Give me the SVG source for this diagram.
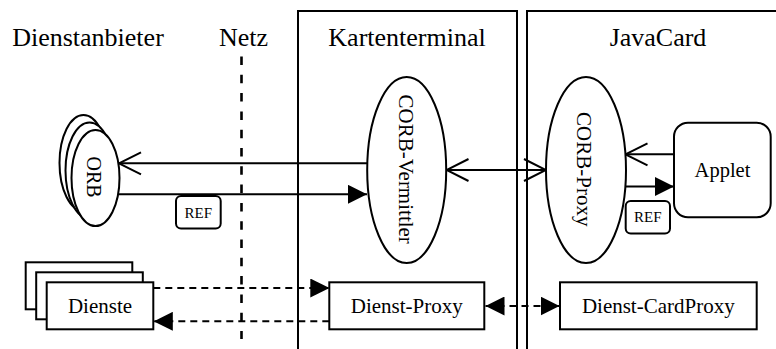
<svg xmlns="http://www.w3.org/2000/svg" width="776" height="349" viewBox="0 0 776 349">
  <style>
    text { font-family: "Liberation Serif", "Times New Roman", serif; fill: #000; }
    .title { font-size: 26px; text-anchor: middle; }
    .lbl { font-size: 21px; text-anchor: middle; }
    .ref { font-size: 15px; text-anchor: middle; }
    .shape { fill: #fff; stroke: #000; stroke-width: 2; }
    .frame { fill: none; stroke: #000; stroke-width: 2; }
    .line { fill: none; stroke: #000; stroke-width: 2; }
    .dash { stroke-dasharray: 7 5; }
  </style>
  <defs>
    <marker id="filled" viewBox="0 0 19 19" markerWidth="19" markerHeight="19" refX="19" refY="9.5" orient="auto-start-reverse" markerUnits="userSpaceOnUse">
      <path d="M0,0 L19,9.5 L0,19 z" fill="#000" stroke="none"/>
    </marker>
    <marker id="open" viewBox="-2 -2 26 26" markerWidth="26" markerHeight="26" refX="22" refY="11" orient="auto-start-reverse" markerUnits="userSpaceOnUse">
      <path d="M0,0 L22,11 L0,22" fill="none" stroke="#000" stroke-width="2" stroke-dasharray="none"/>
    </marker>
  </defs>

  <rect width="776" height="349" fill="#fff"/>

  <!-- domain frames and headings -->
  <g id="domains">
    <path class="frame" d="M298,349 V11 H517 V349"/>
    <path class="frame" d="M527,349 V11 H778"/>
    <text class="title" x="88" y="46">Dienstanbieter</text>
    <text class="title" x="243.5" y="46">Netz</text>
    <text class="title" x="407" y="46">Kartenterminal</text>
    <text class="title" x="658" y="46">JavaCard</text>
    <line x1="241.5" y1="56.5" x2="241.5" y2="339" stroke="#000" stroke-width="2.6" stroke-dasharray="8.5 9.8"/>
  </g>

  <!-- connectors -->
  <g id="connectors">
    <line class="line" x1="367" y1="163.3" x2="119" y2="163.3" marker-end="url(#open)"/>
    <line class="line" x1="118.5" y1="194.3" x2="367" y2="194.3" marker-end="url(#filled)"/>
    <line class="line" x1="446.5" y1="170" x2="546" y2="170" marker-start="url(#open)" marker-end="url(#open)"/>
    <line class="line" x1="674" y1="154.3" x2="625.5" y2="154.3" marker-end="url(#open)"/>
    <line class="line" x1="626" y1="186.5" x2="674" y2="186.5" marker-end="url(#filled)"/>
    <line class="line dash" x1="153.3" y1="288" x2="329.3" y2="288" marker-end="url(#filled)"/>
    <line class="line dash" x1="329.3" y1="321.3" x2="153.8" y2="321.3" marker-end="url(#filled)"/>
    <line class="line dash" x1="485.5" y1="306" x2="559.5" y2="306" marker-start="url(#filled)" marker-end="url(#filled)"/>
  </g>

  <!-- ORB stack -->
  <g id="orb">
    <ellipse class="shape" cx="83.5" cy="163" rx="24" ry="48"/>
    <ellipse class="shape" cx="89.5" cy="170.5" rx="24" ry="48"/>
    <ellipse class="shape" cx="95.5" cy="178" rx="24" ry="48"/>
    <text class="lbl" style="font-size:20px" transform="translate(93.8,177) rotate(90)" y="7">ORB</text>
  </g>

  <g id="ref-left">
    <rect class="shape" x="176" y="196" width="44.7" height="32.5" rx="5"/>
    <text class="ref" x="198.3" y="217.5">REF</text>
  </g>

  <g id="corb-vermittler">
    <ellipse class="shape" cx="406.7" cy="170" rx="39.5" ry="93"/>
    <text class="lbl" transform="translate(405.5,169.2) rotate(90)" y="7">CORB-Vermittler</text>
  </g>

  <g id="corb-proxy">
    <ellipse class="shape" cx="586" cy="170" rx="40" ry="93"/>
    <text class="lbl" transform="translate(583.5,169.2) rotate(90)" y="7">CORB-Proxy</text>
  </g>

  <g id="applet">
    <rect class="shape" x="674" y="122.7" width="96.7" height="94.6" rx="14"/>
    <text class="lbl" style="font-size:20.5px" x="722.5" y="177">Applet</text>
  </g>

  <g id="ref-right">
    <rect class="shape" x="625.7" y="201" width="44.3" height="32.5" rx="5"/>
    <text class="ref" x="647.8" y="222">REF</text>
  </g>

  <g id="dienste">
    <rect class="shape" x="25.7" y="262.3" width="106.6" height="47"/>
    <rect class="shape" x="36.2" y="272.3" width="106.6" height="47"/>
    <rect class="shape" x="46.7" y="282.3" width="106.6" height="47"/>
    <text class="lbl" x="100" y="313.3">Dienste</text>
  </g>

  <g id="dienst-proxy">
    <rect class="shape" x="329.3" y="282.3" width="155" height="47"/>
    <text class="lbl" x="406.8" y="313.3">Dienst-Proxy</text>
  </g>

  <g id="dienst-cardproxy">
    <rect class="shape" x="560" y="282.3" width="196.7" height="47"/>
    <text class="lbl" x="658.3" y="313.3">Dienst-CardProxy</text>
  </g>
</svg>
